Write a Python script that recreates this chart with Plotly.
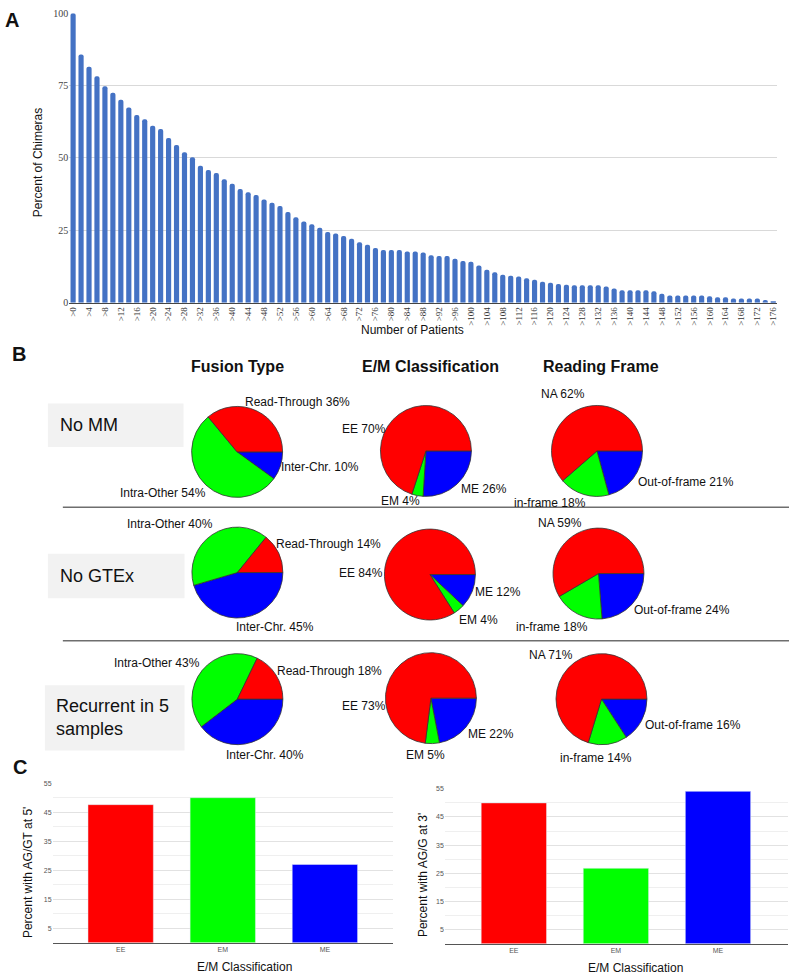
import plotly.graph_objects as go

W, H = 790, 979

# ---------------- Panel A data ----------------
thresholds = list(range(0, 177, 2))
patient_cats = [f">{t}" for t in thresholds]
pct_chimeras = [
    100, 85.7, 81.5, 78.2, 74.8, 72.5, 70.1, 67.4, 64.8, 63.4,
    61.1, 60.0, 56.9, 54.5, 52.0, 50.2, 47.3, 45.8, 44.8, 42.6,
    41.1, 39.3, 38.1, 37.2, 35.6, 34.5, 33.4, 31.3, 29.5, 28.0,
    27.1, 25.9, 24.4, 23.9, 23.0, 22.1, 20.9, 20.0, 18.9, 18.2,
    18.2, 18.2, 17.7, 17.7, 17.3, 16.4, 16.1, 16.1, 15.2, 14.4,
    14.1, 12.8, 11.4, 10.5, 9.6, 9.3, 9.0, 8.4, 7.9, 7.2,
    6.9, 6.4, 6.2, 6.0, 6.0, 6.0, 6.0, 5.6, 4.9, 4.3,
    4.3, 4.3, 4.3, 3.9, 3.1, 2.5, 2.5, 2.5, 2.5, 2.5,
    2.2, 1.9, 1.9, 1.4, 1.4, 1.4, 1.4, 0.9, 0.3,
]
a_yticks = [0, 25, 50, 75, 100]

# ---------------- Panel B data ----------------
row_names = ["No MM", "No GTEx", "Recurrent in 5<br>samples"]
col_titles = ["Fusion Type", "E/M Classification", "Reading Frame"]

fusion_labels = ["Read-Through", "Intra-Other", "Inter-Chr."]
em_labels = ["EE", "EM", "ME"]
frame_labels = ["NA", "in-frame", "Out-of-frame"]

fusion_vals = [[36, 54, 10], [14, 40, 45], [18, 43, 40]]
em_vals = [[70, 4, 26], [84, 4, 12], [73, 5, 22]]
frame_vals = [[62, 18, 21], [59, 18, 24], [71, 14, 16]]

slice_colors = ["#ff0000", "#00ff00", "#0000ff"]

# ---------------- Panel C data ----------------
c_cats = ["EE", "EM", "ME"]
pct_agt_5 = [47.6, 50.0, 27.0]
pct_agg_3 = [50.0, 26.8, 54.1]
c_colors = ["#ff0000", "#00ff00", "#0000ff"]

SANS = "Liberation Sans, Arial, sans-serif"
SERIF = "Liberation Serif, Times New Roman, serif"

# ---------------- layout positions (pixels) ----------------
pie_centers = [
    [(236.7, 451), (426, 450), (597.5, 450)],
    [(237, 573), (430, 575), (599, 574)],
    [(237, 701), (431, 700), (602, 701)],
]
PIE_R = 46
# label centre positions, per row / pie / slice (same order as the labels lists)
label_pos = [
    [[(297, 400.7), (162.2, 492.7), (320, 466)],
     [(363.8, 427.7), (400.5, 501), (483.8, 488.3)],
     [(563.7, 392.7), (550, 502.7), (686.8, 481)]],
    [[(328.5, 544), (169.2, 524), (274.7, 628.3)],
     [(361.3, 573.3), (478.3, 621), (497.8, 592.7)],
     [(560.8, 522.7), (552.8, 628.3), (682.8, 611)]],
    [[(329.2, 672.7), (156.2, 664), (264.7, 757.3)],
     [(363.8, 708.3), (425.8, 757.3), (491.5, 736.7)],
     [(551, 656.7), (596.2, 761), (693.8, 726.7)]],
]


def px(x):
    return x / W


def py(y):
    return 1 - y / H


fig = go.Figure()

# Panel A bars
fig.add_trace(go.Bar(
    x=patient_cats, y=pct_chimeras, marker=dict(color="#4472c4", cornerradius=2, line=dict(width=0)),
    xaxis="x", yaxis="y", showlegend=False,
))

ann = []


def add_text(x, y, text, size=12, bold=False, angle=0, xanchor="center", color="#111", align="center"):
    ann.append(dict(x=px(x), y=py(y), xref="paper", yref="paper", text=f"<b>{text}</b>" if bold else text,
                    showarrow=False, xanchor=xanchor, yanchor="middle", textangle=angle, align=align,
                    font=dict(family=SANS, size=size, color=color)))


# Panel B pies (slices run counter-clockwise from 3 o'clock: drawn clockwise in reversed order)
for ri in range(3):
    groups = [(fusion_labels, fusion_vals[ri]), (em_labels, em_vals[ri]), (frame_labels, frame_vals[ri])]
    for ci, (labs, vals) in enumerate(groups):
        cx, cy = pie_centers[ri][ci]
        fig.add_trace(go.Pie(
            labels=labs[::-1], values=vals[::-1],
            textinfo="none",
            sort=False, direction="clockwise", rotation=90,
            marker=dict(colors=slice_colors[::-1], line=dict(color="#333", width=0.8)),
            domain=dict(x=[px(cx - PIE_R), px(cx + PIE_R)], y=[py(cy + PIE_R), py(cy - PIE_R)]),
            showlegend=False, hoverinfo="skip",
        ))
        for (lx, ly), l, v in zip(label_pos[ri][ci], labs, vals):
            add_text(lx, ly, f"{l} {v}%", 12)

# Panel C bars
fig.add_trace(go.Bar(x=c_cats, y=pct_agt_5, marker=dict(color=c_colors), width=0.64,
                     xaxis="x2", yaxis="y2", showlegend=False))
fig.add_trace(go.Bar(x=c_cats, y=pct_agg_3, marker=dict(color=c_colors), width=0.64,
                     xaxis="x3", yaxis="y3", showlegend=False))

small_grid = dict(gridcolor="#e2e2e2", gridwidth=1, zeroline=False,
                  tickvals=[5, 15, 25, 35, 45, 55], range=[0, 55],
                  tickfont=dict(family=SANS, size=7, color="#555"),
                  minor=dict(tick0=0, dtick=5, showgrid=True, gridcolor="#efefef", gridwidth=1),
                  ticks="", fixedrange=True)

fig.update_layout(
    width=W, height=H, margin=dict(l=0, r=0, t=0, b=0),
    paper_bgcolor="white", plot_bgcolor="white",
    font=dict(family=SANS, color="#222"),
    bargap=0.35,
    xaxis=dict(domain=[px(68.3), px(778.2)], anchor="y", type="category",
               tickvals=patient_cats[::2], tickangle=-90,
               tickfont=dict(family=SERIF, size=9, color="#333"),
               showline=True, linecolor="#444", linewidth=1, ticks="", showgrid=False),
    yaxis=dict(domain=[py(300), py(7.3)], anchor="x", range=[0, 100], tickvals=a_yticks,
               tickfont=dict(family=SERIF, size=10, color="#444"),
               gridcolor="#d9d9d9", gridwidth=1.2, zeroline=False, ticks=""),
    xaxis2=dict(domain=[px(51.7), px(393)], anchor="y2", range=[-0.667, 2.667],
                tickfont=dict(family=SANS, size=7, color="#555"),
                showline=True, linecolor="#555", linewidth=1.2, ticks="", showgrid=False),
    yaxis2=dict(domain=[py(947.5), py(786)], anchor="x2", **small_grid),
    xaxis3=dict(domain=[px(445), px(789)], anchor="y3", range=[-0.676, 2.686],
                tickfont=dict(family=SANS, size=7, color="#555"),
                showline=True, linecolor="#555", linewidth=1.2, ticks="", showgrid=False),
    yaxis3=dict(domain=[py(948.5), py(791.7)], anchor="x3", **small_grid),
)

# panel letters
add_text(2, 14, "A", 20, bold=True, xanchor="left")
add_text(9, 352, "B", 20, bold=True, xanchor="left")
add_text(10, 770, "C", 20, bold=True, xanchor="left")

# axis titles
add_text(412.5, 328, "Number of Patients", 12)
add_text(37, 158, "Percent of Chimeras", 12, angle=-90)
add_text(27, 876, "Percent with AG/GT at 5'", 12, angle=-90)
add_text(423, 879, "Percent with AG/G at 3'", 12, angle=-90)
add_text(244.5, 972, "E/M Classification", 12)
add_text(635.7, 973, "E/M Classification", 12)

# column titles
for x, t in zip([237, 431, 601.5], col_titles):
    add_text(x, 365, t, 16, bold=True)

# row labels
row_y = [423.3, 576, 720]
row_x = [57, 57, 53]
for x, y, t in zip(row_x, row_y, row_names):
    add_text(x, y, t, 18, xanchor="left", align="left")

fig.update_layout(annotations=ann)

shapes = []
for (x0, x1, y0, y1) in [(47, 183, 402, 446), (47, 184, 554, 599), (44, 184, 687, 753)]:
    shapes.append(dict(type="rect", xref="paper", yref="paper", x0=px(x0), x1=px(x1), y0=py(y1), y1=py(y0),
                       fillcolor="#f2f2f2", line=dict(width=0), layer="below"))
for y in [507, 642]:
    shapes.append(dict(type="line", xref="paper", yref="paper", x0=px(62), x1=1, y0=py(y), y1=py(y),
                       line=dict(color="#6e6e6e", width=1.5)))
fig.update_layout(shapes=shapes)

fig.write_html("out.html")
